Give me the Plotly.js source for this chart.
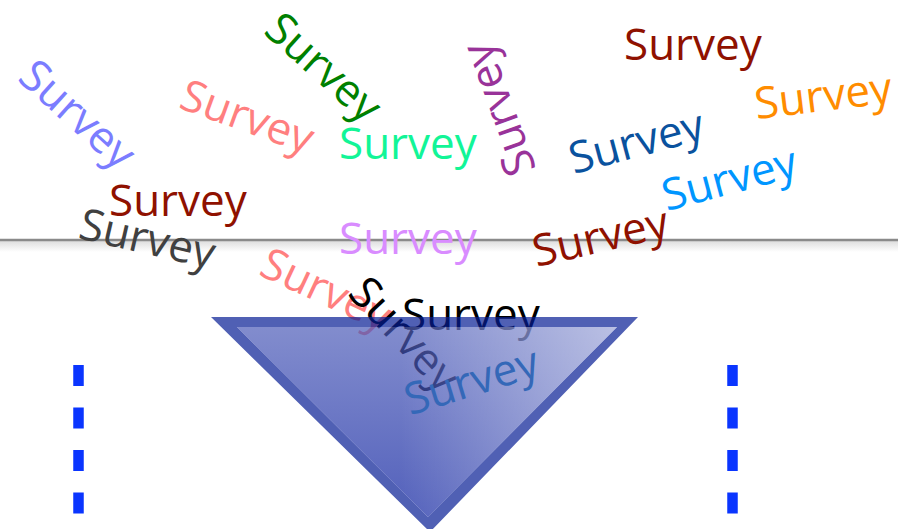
<!DOCTYPE html>
<html><head><meta charset="utf-8">
<script src="https://cdn.plot.ly/plotly-3.0.1.min.js"></script>
<style>
html,body{margin:0;padding:0;background:#fff;overflow:hidden}
#wrap{position:relative;width:898px;height:529px}
#base,#top{position:absolute;left:0;top:0;width:898px;height:529px}
#top{pointer-events:none}
</style></head><body>
<div id="wrap"><div id="base"></div><div id="top"></div></div>
<script>
// Word cloud: every word, its centre in the 898 x 529 data space, its rotation and colour
const words = ["Survey","Survey","Survey","Survey","Survey","Survey","Survey","Survey","Survey",
               "Survey","Survey","Survey","Survey","Survey","Survey","Survey","Survey"];
const wordX = [79, 248, 325, 408, 497, 693, 823, 636, 729, 178, 148, 408, 600, 327, 406, 471, 471];
const wordY = [113, 115, 66, 142, 110, 43, 94, 140, 177, 199, 237, 237, 235, 288, 333, 313, 379];
const wordAngle = [42, 20, 42, 0, -110, 0, -7, -15, -15, 0, 13, 0, -13, 25, 47, 0, -17];
const wordColor = ["#7b7dff","#ff7f7f","#008000","#12f597","#993399","#8f1100","#ff8c00","#0a529e",
                   "#0096ff","#8f1100","#404040","#d98cff","#8f1100","#ff7f7f","#000000","#000000","#3468b8"];
const wordLayer = ["base","base","base","base","base","base","base","base","base",
                   "base","base","base","base","base","base","base","top"];

// Horizontal rule
const ruleY = 240;
const ruleShadow = [241, 252];
// Dashed vertical markers
const dashX = [78.5, 732.5];
const dashY = [365, 560];
// Inverted triangle: outer outline and inner (filled) face
const triOuterX = [211, 638, 430, 211];
const triOuterY = [317, 317, 532, 317];
const triInnerX = [237, 617, 428, 237];
const triInnerY = [327, 327, 517, 327];

const FONT = '"Open Sans", "Segoe UI", sans-serif';

function axes() {
  return {
    xaxis: {range: [0, 898], visible: false, fixedrange: true},
    yaxis: {range: [529, 0], visible: false, fixedrange: true}
  };
}
function annots(layer) {
  const out = [];
  for (let i = 0; i < words.length; i++) {
    if (wordLayer[i] !== layer) continue;
    out.push({
      x: wordX[i], y: wordY[i], xref: 'x', yref: 'y', text: words[i],
      showarrow: false, xanchor: 'center', yanchor: 'middle',
      textangle: wordAngle[i],
      font: {family: FONT, size: 44, color: wordColor[i]}
    });
  }
  return out;
}

const baseTraces = [
  {x: [0, 898, 898, 0, 0], y: [ruleShadow[0], ruleShadow[0], ruleShadow[1], ruleShadow[1], ruleShadow[0]],
   mode: 'lines', fill: 'toself', line: {width: 0},
   fillgradient: {type: 'vertical', start: ruleShadow[0], stop: ruleShadow[1],
     colorscale: [[0, 'rgba(0,0,0,0.13)'], [1, 'rgba(0,0,0,0)']]},
   hoverinfo: 'skip', showlegend: false},
  {x: [0, 898], y: [ruleY, ruleY], mode: 'lines', line: {color: '#8a8a8a', width: 2.5},
   hoverinfo: 'skip', showlegend: false}
];
dashX.forEach(function (dx) {
  baseTraces.push({x: [dx, dx], y: dashY, mode: 'lines',
    line: {color: '#0a35ff', width: 10.5, dash: '21px,21.5px'},
    hoverinfo: 'skip', showlegend: false});
});

const baseLayout = Object.assign({
  width: 898, height: 529, margin: {l: 0, r: 0, t: 0, b: 0},
  paper_bgcolor: '#ffffff', plot_bgcolor: '#ffffff', showlegend: false,
  annotations: annots('base')
}, axes());

// ring = outer triangle followed by inner triangle wound the other way
const ringX = triOuterX.concat([null], triInnerX.slice().reverse());
const ringY = triOuterY.concat([null], triInnerY.slice().reverse());

const topTraces = [
  {x: ringX, y: ringY, mode: 'lines', fill: 'toself', fillcolor: 'rgb(5,28,148)',
   line: {width: 0}, opacity: 0.7, hoverinfo: 'skip', showlegend: false},
  {x: triInnerX, y: triInnerY, mode: 'lines', fill: 'toself',
   fillgradient: {type: 'vertical', start: 327, stop: 517,
     colorscale: [[0, 'rgb(76,91,184)'], [1, 'rgb(8,28,158)']]},
   line: {width: 0}, opacity: 0.7, hoverinfo: 'skip', showlegend: false},
  {x: triInnerX, y: triInnerY, mode: 'lines', fill: 'toself',
   fillgradient: {type: 'horizontal', start: 400, stop: 640,
     colorscale: [[0, 'rgba(255,255,255,0)'], [1, 'rgba(255,255,255,0.5)']]},
   line: {width: 0}, hoverinfo: 'skip', showlegend: false}
];
const topLayout = Object.assign({
  width: 898, height: 529, margin: {l: 0, r: 0, t: 0, b: 0},
  paper_bgcolor: 'rgba(0,0,0,0)', plot_bgcolor: 'rgba(0,0,0,0)', showlegend: false,
  annotations: annots('top')
}, axes());

Plotly.newPlot('base', baseTraces, baseLayout, {staticPlot: true, displayModeBar: false});
Plotly.newPlot('top', topTraces, topLayout, {staticPlot: true, displayModeBar: false});
</script>
</body></html>
